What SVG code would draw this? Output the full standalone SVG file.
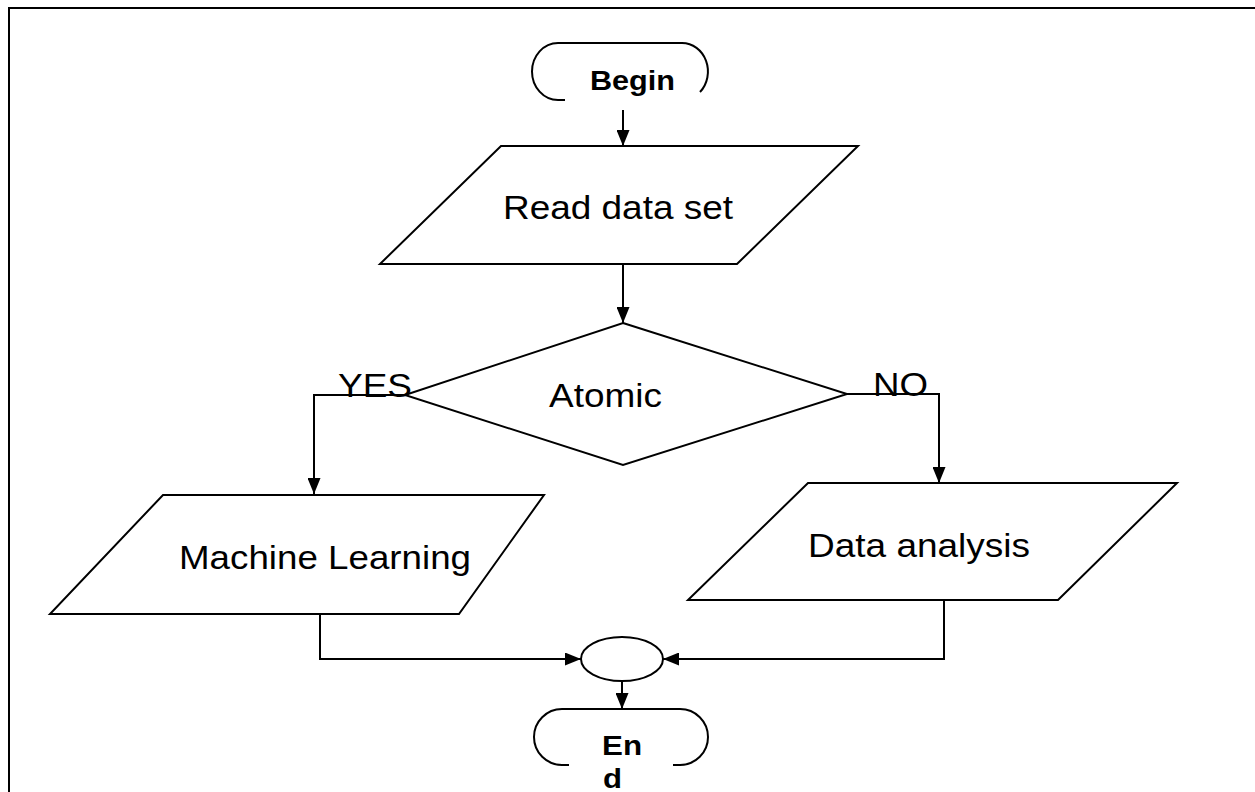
<svg xmlns="http://www.w3.org/2000/svg" width="1255" height="792" viewBox="0 0 1255 792">
<style>
.shape{fill:#fff;stroke:#000;stroke-width:2}
.open{fill:none;stroke:#000;stroke-width:2}
.conn{fill:none;stroke:#000;stroke-width:2}
.lbl{font-family:"Liberation Sans",Arial,sans-serif;font-size:34px;fill:#000}
.term{font-family:"Liberation Sans",Arial,sans-serif;font-size:28px;font-weight:bold;fill:#000}
</style>
<defs>
<marker id="ah" viewBox="0 0 16 13" refX="16" refY="6.5" markerWidth="16" markerHeight="13" markerUnits="userSpaceOnUse" orient="auto">
<path d="M0,0 L16,6.5 L0,13 Z" fill="#000"/>
</marker>
</defs>
<rect width="1255" height="792" fill="#fff"/>
<g id="frame">
<path class="open" d="M9,792 L9,8 L1255,8" stroke-width="2.5"/>
</g>
<g id="connectors">
<path class="conn" d="M623,110 L623,146" marker-end="url(#ah)"/>
<path class="conn" d="M623,264 L623,323" marker-end="url(#ah)"/>
<path class="conn" d="M405,395 L314,395 L314,494" marker-end="url(#ah)"/>
<path class="conn" d="M847,394 L939,394 L939,483" marker-end="url(#ah)"/>
<path class="conn" d="M320,614 L320,659 L581,659" marker-end="url(#ah)"/>
<path class="conn" d="M944,600 L944,659 L663,659" marker-end="url(#ah)"/>
<path class="conn" d="M622,681 L622,709" marker-end="url(#ah)"/>
</g>
<g id="begin">
<path class="open" d="M565,100 L558,100 A26,28.5 0 0 1 558,43 L682,43 A26,28.5 0 0 1 700,92"/>
<text class="term" x="590" y="90" textLength="85" lengthAdjust="spacingAndGlyphs">Begin</text>
</g>
<g id="read">
<polygon class="shape" points="501,146 858,146 737,264 380,264"/>
<text class="lbl" x="503" y="219" textLength="230" lengthAdjust="spacingAndGlyphs">Read data set</text>
</g>
<g id="atomic">
<polygon class="shape" points="623,323 847,394 623,465 405,395"/>
<text class="lbl" x="549" y="407" textLength="113" lengthAdjust="spacingAndGlyphs">Atomic</text>
</g>
<g id="yes-label">
<text class="lbl" x="338" y="397" textLength="74" lengthAdjust="spacingAndGlyphs">YES</text>
</g>
<g id="no-label">
<text class="lbl" x="873" y="396" textLength="55" lengthAdjust="spacingAndGlyphs">NO</text>
</g>
<g id="ml">
<polygon class="shape" points="163,495 544,495 459,614 50,614"/>
<text class="lbl" x="179" y="569" textLength="292" lengthAdjust="spacingAndGlyphs">Machine Learning</text>
</g>
<g id="da">
<polygon class="shape" points="808,483 1177,483 1058,600 688,600"/>
<text class="lbl" x="808" y="557" textLength="222" lengthAdjust="spacingAndGlyphs">Data analysis</text>
</g>
<g id="merge">
<ellipse class="shape" cx="622" cy="659" rx="41" ry="22"/>
</g>
<g id="end">
<path class="open" d="M569,765 L562,765 A28,28 0 0 1 562,709 L680,709 A28,28 0 0 1 680,765 L673,765"/>
<text class="term" x="602" y="755" textLength="40" lengthAdjust="spacingAndGlyphs">En</text>
<text class="term" x="603" y="788" textLength="19" lengthAdjust="spacingAndGlyphs">d</text>
</g>
</svg>
